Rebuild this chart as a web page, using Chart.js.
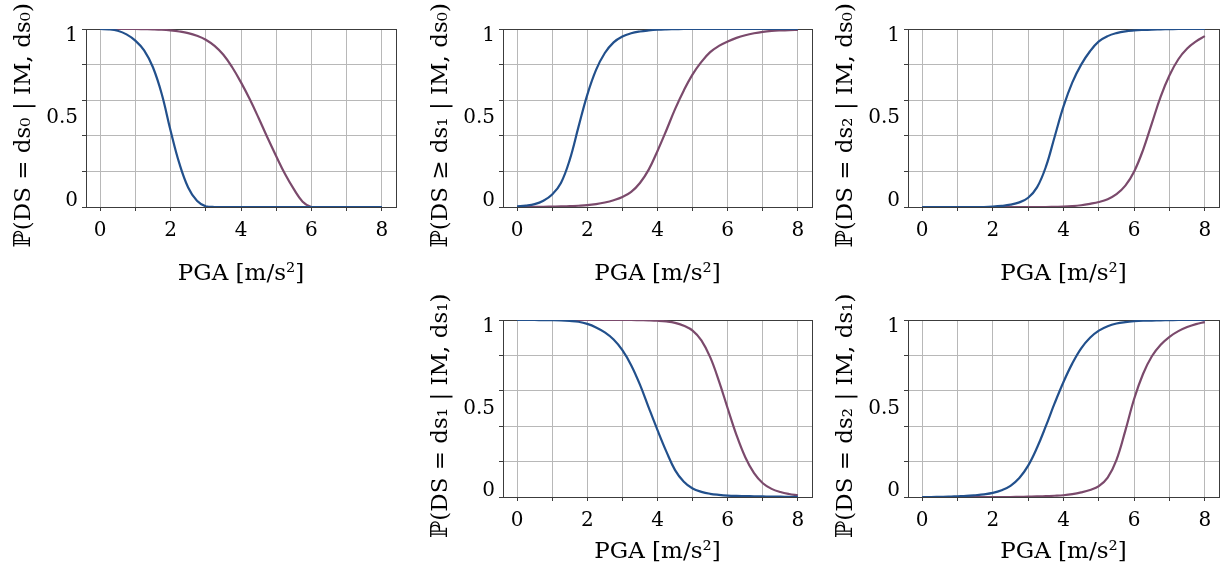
<!DOCTYPE html>
<html><head><meta charset="utf-8">
<script src="https://cdn.jsdelivr.net/npm/chart.js@4.4.1/dist/chart.umd.min.js"></script>
<style>
html,body{margin:0;padding:0;background:#fff;width:1225px;height:568px;overflow:hidden;position:relative}
.p{position:absolute}
canvas{display:block}
</style></head><body>
<div class="p" id="w1"><canvas id="c1"></canvas></div>
<div class="p" id="w2"><canvas id="c2"></canvas></div>
<div class="p" id="w3"><canvas id="c3"></canvas></div>
<div class="p" id="w4"><canvas id="c4"></canvas></div>
<div class="p" id="w5"><canvas id="c5"></canvas></div>
<script>
// ---- data ----
const pga = [0,0.25,0.5,0.75,1,1.25,1.5,1.75,2,2.25,2.5,2.75,3,3.25,3.5,3.75,4,4.25,4.5,4.75,5,5.25,5.5,5.75,6,6.25,6.5,6.75,7,7.25,7.5,7.75,8];

const ds0_ds0_blue   = [1,0.998,0.99,0.97,0.935,0.88,0.785,0.635,0.43,0.245,0.11,0.035,0.004,0,0,0,0,0,0,0,0,0,0,0,0,0,0,0,0,0,0,0,0];
const ds0_ds0_purple = [1,1,1,1,1,0.999,0.998,0.996,0.992,0.986,0.977,0.962,0.94,0.905,0.855,0.785,0.7,0.605,0.5,0.39,0.285,0.185,0.1,0.03,0,0,0,0,0,0,0,0,0];

const ge1_ds0_blue   = [0.004,0.008,0.016,0.035,0.07,0.135,0.265,0.45,0.63,0.77,0.865,0.925,0.958,0.976,0.986,0.992,0.996,0.998,0.999,1,1,1,1,1,1,1,1,1,1,1,1,1,1];
const ge1_ds0_purple = [0,0,0.001,0.001,0.002,0.003,0.005,0.007,0.01,0.016,0.025,0.038,0.056,0.085,0.135,0.21,0.315,0.43,0.55,0.655,0.745,0.815,0.87,0.905,0.93,0.95,0.965,0.976,0.984,0.989,0.992,0.994,0.995];

const ds2_ds0_blue   = [0,0,0,0,0,0,0,0,0.002,0.006,0.013,0.026,0.052,0.11,0.225,0.395,0.565,0.7,0.8,0.875,0.93,0.96,0.977,0.987,0.992,0.995,0.997,0.998,0.999,1,1,1,1];
const ds2_ds0_purple = [0,0,0,0,0,0,0,0,0,0,0,0,0,0,0,0.001,0.002,0.005,0.01,0.018,0.028,0.044,0.072,0.12,0.2,0.32,0.47,0.62,0.74,0.83,0.89,0.93,0.96];

const ds1_ds1_blue   = [1,1,1,0.999,0.999,0.998,0.995,0.99,0.978,0.958,0.93,0.89,0.83,0.745,0.635,0.505,0.378,0.258,0.152,0.086,0.048,0.029,0.018,0.012,0.008,0.006,0.005,0.004,0.003,0.002,0.002,0.001,0.001];
const ds1_ds1_purple = [1,1,1,1,1,1,1,1,1,1,1,1,1,1,0.999,0.998,0.996,0.992,0.984,0.967,0.94,0.885,0.79,0.655,0.5,0.35,0.225,0.135,0.078,0.046,0.028,0.017,0.01];

const ds2_ds1_blue   = [0,0,0.001,0.002,0.004,0.006,0.01,0.015,0.023,0.038,0.063,0.107,0.177,0.278,0.4,0.53,0.65,0.755,0.84,0.9,0.94,0.965,0.98,0.988,0.993,0.996,0.997,0.998,0.999,1,1,1,1];
const ds2_ds1_purple = [0,0,0,0,0,0,0,0,0,0,0,0.001,0.002,0.003,0.005,0.007,0.01,0.016,0.026,0.04,0.062,0.11,0.21,0.375,0.555,0.695,0.795,0.86,0.905,0.937,0.96,0.977,0.988];

const xTickValues = [0,1,2,3,4,5,6,7,8];
const xLabelValues = [0,2,4,6,8];
const yTickValues = [0,0.2,0.4,0.5,0.6,0.8,1];
const yGridValues = [0,0.2,0.4,0.6,0.8,1];
const xAxisTitle = 'PGA [m/s\u00B2]';
const yTitles = [
  '\u2119(DS = ds\u2080 | IM, ds\u2080)  ',
  '\u2119(DS \u2265 ds\u2081 | IM, ds\u2080)  ',
  '\u2119(DS = ds\u2082 | IM, ds\u2080)  ',
  '\u2119(DS = ds\u2081 | IM, ds\u2081)  ',
  '\u2119(DS = ds\u2082 | IM, ds\u2081)  '
];

// ---- style / layout ----
const BLUE = '#22508c', PURPLE = '#7b4a6c', GRID = '#b8b8b8', AXIS = '#3c3c3c';
const FONT = "'DejaVu Serif', serif";
Chart.defaults.font.family = FONT;
Chart.defaults.color = '#000';

const panels = [
  {id:'1', blue:ds0_ds0_blue, purple:ds0_ds0_purple, left:6,   top:0,   w:398, h:292, pt:29, pr:8, xh:85},
  {id:'2', blue:ge1_ds0_blue, purple:ge1_ds0_purple, left:423, top:0,   w:397, h:292, pt:29, pr:8, xh:85},
  {id:'3', blue:ds2_ds0_blue, purple:ds2_ds0_purple, left:828, top:0,   w:397, h:292, pt:29, pr:6, xh:85},
  {id:'4', blue:ds1_ds1_blue, purple:ds1_ds1_purple, left:423, top:290, w:397, h:278, pt:30, pr:8, xh:71},
  {id:'5', blue:ds2_ds1_blue, purple:ds2_ds1_purple, left:828, top:290, w:397, h:278, pt:30, pr:6, xh:71}
];

const boxPlugin = {
  id:'box',
  beforeDatasetsDraw(chart){
    const {ctx, chartArea:a} = chart;
    ctx.save();
    ctx.strokeStyle = AXIS; ctx.lineWidth = 1;
    ctx.strokeRect(Math.round(a.left)+0.5, Math.round(a.top)+0.5, Math.round(a.right-a.left), Math.round(a.bottom-a.top));
    ctx.restore();
  }
};

panels.forEach((p, k) => {
  const wrap = document.getElementById('w'+p.id);
  wrap.style.left = p.left+'px'; wrap.style.top = p.top+'px';
  const cv = document.getElementById('c'+p.id);
  cv.width = p.w; cv.height = p.h;
  const mk = (ys) => ys.map((y,i) => ({x:pga[i], y}));
  new Chart(cv, {
    type:'line',
    data:{datasets:[
      {data:mk(p.blue), borderColor:BLUE, borderWidth:2.2, pointRadius:0, tension:0.4, fill:false},
      {data:mk(p.purple), borderColor:PURPLE, borderWidth:2.2, pointRadius:0, tension:0.4, fill:false}
    ]},
    options:{
      responsive:false, animation:false, events:[],
      layout:{padding:{top:p.pt, right:p.pr, left:0, bottom:0}},
      plugins:{legend:{display:false}, tooltip:{enabled:false}},
      scales:{
        x:{type:'linear', min:-0.4, max:8.4,
          afterBuildTicks(s){ s.ticks = xTickValues.map(v=>({value:v})); },
          afterFit(s){ s.height = p.xh; },
          ticks:{autoSkip:false, maxRotation:0, padding:8, font:{size:20},
            callback:(v)=> xLabelValues.includes(v) ? String(v) : ''},
          grid:{color:GRID, lineWidth:1, tickLength:4, tickColor:AXIS},
          border:{color:AXIS, width:1},
          title:{display:true, text:xAxisTitle, font:{size:23}, padding:{top:4,bottom:(p.top>0?2:4)}}
        },
        y:{type:'linear', min:0, max:1,
          afterBuildTicks(s){ s.ticks = yTickValues.map(v=>({value:v})); },
          afterFit(s){ s.width = 80; },
          ticks:{autoSkip:false, padding:4, font:{size:20, lineHeight:0.65},
            callback:(v)=> v===1 ? ['', '1'] : (v===0 ? ['0', ''] : (v===0.5 ? '0.5' : ''))},
          grid:{lineWidth:1, tickLength:4,
            color:(c)=> yGridValues.includes(c.tick.value) ? GRID : 'rgba(0,0,0,0)',
            tickColor:(c)=> yGridValues.includes(c.tick.value) ? AXIS : 'rgba(0,0,0,0)'},
          border:{color:AXIS, width:1},
          title:{display:true, text:yTitles[k], font:{size:23}, padding:{top:4,bottom:4}}
        }
      }
    },
    plugins:[boxPlugin]
  });
});
</script>
</body></html>
